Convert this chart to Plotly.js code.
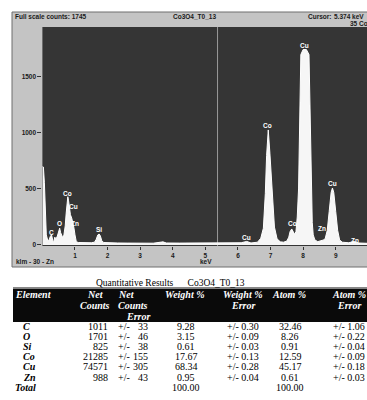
<!DOCTYPE html>
<html><head><meta charset="utf-8">
<script src="https://cdn.plot.ly/plotly-3.0.1.min.js"></script>
<style>html,body{margin:0;padding:0;background:#fff}#c{width:367px;height:400px}</style>
</head><body><div id="c"></div>
<script>
// ---- spectrum data (keV, counts) ----
const energy = [0.00,0.03,0.06,0.09,0.12,0.16,0.20,0.24,0.28,0.32,0.35,0.38,0.42,0.46,0.50,0.53,0.56,0.60,0.63,0.66,0.70,0.73,0.76,0.78,0.80,0.83,0.86,0.90,0.94,0.97,1.00,1.04,1.10,1.20,1.35,1.50,1.60,1.65,1.70,1.74,1.78,1.82,1.88,2.00,2.30,2.60,3.00,3.40,3.70,3.80,4.20,4.60,5.00,5.40,5.80,6.10,6.27,6.40,6.60,6.70,6.78,6.84,6.88,6.93,6.98,7.05,7.12,7.20,7.30,7.40,7.50,7.56,7.60,7.65,7.70,7.74,7.78,7.82,7.86,7.90,7.93,8.00,8.10,8.18,8.21,8.25,8.28,8.31,8.36,8.45,8.55,8.63,8.68,8.74,8.80,8.86,8.90,8.94,9.00,9.06,9.12,9.20,9.40,9.57,9.70,9.96];
const counts = [700,696,560,250,90,45,40,75,90,40,30,70,55,80,140,150,110,75,62,90,170,285,400,431,400,320,270,240,200,150,90,30,22,20,18,20,25,50,90,98,80,40,22,20,18,17,18,16,28,18,17,18,16,20,15,20,32,18,25,60,150,460,800,1027,820,460,160,55,28,25,35,70,120,143,110,95,120,250,500,1150,1700,1745,1745,1700,1150,450,200,90,45,30,35,45,60,130,300,470,509,470,300,130,45,25,20,32,18,15];

const peakNames = ['C','O','Co','Cu','Zn','Si','Cu','Co','Co','Cu','Zn','Cu','Zn'];
const peakEnergy = [0.28,0.52,0.78,0.94,1.00,1.75,6.27,6.92,7.66,8.05,8.58,8.91,9.59];
const peakLabelCounts = [116,188,464,348,188,134,71,1071,188,1777,143,545,36];

const yTicks = [0,500,1000,1500];
const xTicks = [1,2,3,4,5,6,7,8,9];
const cursorKeV = 5.374;

// ---- quantitative results table ----
const tableTitle = 'Quantitative Results      Co3O4_T0_13';
const elements = ['C','O','Si','Co','Cu','Zn','Total'];
const netCounts = [1011,1701,825,21285,74571,988];
const netCountsError = [33,46,38,155,305,43];
const weightPct = [9.28,3.15,0.61,17.67,68.34,0.95];
const weightPctError = [0.30,0.09,0.03,0.13,0.28,0.04];
const atomPct = [32.46,8.26,0.91,12.59,45.17,0.61];
const atomPctError = [1.06,0.22,0.04,0.09,0.18,0.03];
const totals = [100.00,100.00];

const W = 367, H = 400;
const px = x => x / W, py = y => 1 - y / H;

const annotations = [];
const sansB = {family:'Liberation Sans, Arial, sans-serif', size:6.5, color:'#1a1a1a'};
function pa(text, x, y, xanchor, font, yanchor){
  annotations.push({xref:'paper', yref:'paper', x:px(x), y:py(y), text:text, showarrow:false,
    xanchor:xanchor||'left', yanchor:yanchor||'middle', font:font, borderpad:0});
}
// top bar
pa('<b>Full scale counts: 1745</b>', 14, 17, 'left', sansB);
pa('<b>Co3O4_T0_13</b>', 194, 17, 'center', sansB);
pa('<b>Cursor:</b>', 307, 17, 'left', sansB);
pa('<b>5.374 keV</b>', 333, 17, 'left', sansB);
pa('<b>35 Counts</b>', 349, 23, 'left', sansB);
pa('<b>klm - 30 - Zn</b>', 15, 261, 'left', sansB);
pa('<b>keV</b>', 206, 261, 'center', sansB);

// peak labels
peakNames.forEach((n,i)=>{
  annotations.push({xref:'x', yref:'y', x:peakEnergy[i], y:peakLabelCounts[i], text:'<b>'+n+'</b>',
    showarrow:false, xanchor:'center', yanchor:'middle', font:{family:'Liberation Sans, Arial, sans-serif', size:6.5, color:'#ffffff'}});
});

// table
const serif = 'Liberation Serif, Times New Roman, serif';
const hF = {family:serif, size:10, color:'#ffffff'};
const cF = {family:serif, size:10, color:'#000000'};
pa(tableTitle.replace(/ /g,'\u00a0'), 170, 283, 'center', {family:serif, size:9.5, color:'#000'});
const hy = [294, 305, 316];
pa('<b><i>Element</i></b>', 14, hy[0], 'left', hF);
pa('<b><i>Net</i></b>', 95, hy[0], 'center', hF);
pa('<b><i>Counts</i></b>', 95, hy[1], 'center', hF);
pa('<b><i>Net</i></b>', 117, hy[0], 'left', hF);
pa('<b><i>Counts</i></b>', 117, hy[1], 'left', hF);
pa('<b><i>Error</i></b>', 151, hy[2], 'right', hF);
pa('<b><i>Weight %</i></b>', 185, hy[0], 'center', hF);
pa('<b><i>Weight %</i></b>', 243, hy[0], 'center', hF);
pa('<b><i>Error</i></b>', 243, hy[1], 'center', hF);
pa('<b><i>Atom %</i></b>', 289, hy[0], 'center', hF);
pa('<b><i>Atom %</i></b>', 349, hy[0], 'center', hF);
pa('<b><i>Error</i></b>', 349, hy[1], 'center', hF);

const row0 = 326.5, rowH = 10.1;
elements.forEach((e,i)=>{
  const y = row0 + i*rowH;
  pa('<b><i>'+e+'</i></b>', e==='Total'?14:22, y, 'left', cF);
  if(i < netCounts.length){
    pa(String(netCounts[i]), 109, y, 'right', cF);
    pa('+/-', 117, y, 'left', cF);
    pa(String(netCountsError[i]), 149, y, 'right', cF);
    pa(weightPct[i].toFixed(2), 186, y, 'center', cF);
    pa('+/-\u00a0'+weightPctError[i].toFixed(2), 243, y, 'center', cF);
    pa(atomPct[i].toFixed(2), 290, y, 'center', cF);
    pa('+/-\u00a0'+atomPctError[i].toFixed(2), 349, y, 'center', cF);
  } else {
    pa(totals[0].toFixed(2), 186, y, 'center', cF);
    pa(totals[1].toFixed(2), 290, y, 'center', cF);
  }
});

const shapes = [
  {type:'rect', xref:'paper', yref:'paper', x0:px(12), x1:px(368), y0:py(267), y1:py(12), fillcolor:'#c4c4c4', line:{color:'#6e6e6e', width:1}, layer:'below'},
  {type:'rect', xref:'x domain', yref:'y domain', x0:0, x1:1, y0:0, y1:1, fillcolor:'#353535', line:{width:0}, layer:'below'},
  {type:'line', xref:'x', yref:'y domain', x0:cursorKeV, x1:cursorKeV, y0:0, y1:1, line:{color:'#9a9a9a', width:1}, layer:'below'},
  {type:'rect', xref:'paper', yref:'paper', x0:px(13), x1:px(368), y0:py(322), y1:py(288.5), fillcolor:'#0a0a0a', line:{width:0}},
  {type:'line', xref:'paper', yref:'paper', x0:px(13), x1:px(368), y0:py(287.5), y1:py(287.5), line:{color:'#888', width:1}}
];

const trace = {x:energy, y:counts, type:'scatter', mode:'lines', fill:'tozeroy',
  fillcolor:'#f6f6f6', line:{color:'#ffffff', width:1}, hoverinfo:'skip'};

const layout = {
  width:W, height:H, margin:{l:0,r:0,t:0,b:0}, paper_bgcolor:'#ffffff', plot_bgcolor:'rgba(0,0,0,0)',
  showlegend:false,
  xaxis:{domain:[px(42.4),1], range:[0,9.96], tickvals:xTicks, ticks:'outside', ticklen:3, tickcolor:'#333', tickwidth:1,
    showgrid:false, zeroline:false, showline:false, tickfont:{family:'Liberation Sans, Arial, sans-serif', size:6.5, color:'#1a1a1a', weight:'bold'}},
  yaxis:{domain:[py(246),py(27)], range:[-9,1946], tickvals:yTicks, ticks:'outside', ticklen:4, tickcolor:'#333', tickwidth:1,
    showgrid:false, zeroline:false, showline:false, tickfont:{family:'Liberation Sans, Arial, sans-serif', size:6.5, color:'#1a1a1a', weight:'bold'}},
  shapes:shapes, annotations:annotations
};
Plotly.newPlot('c', [trace], layout, {staticPlot:true, displayModeBar:false});
</script></body></html>
